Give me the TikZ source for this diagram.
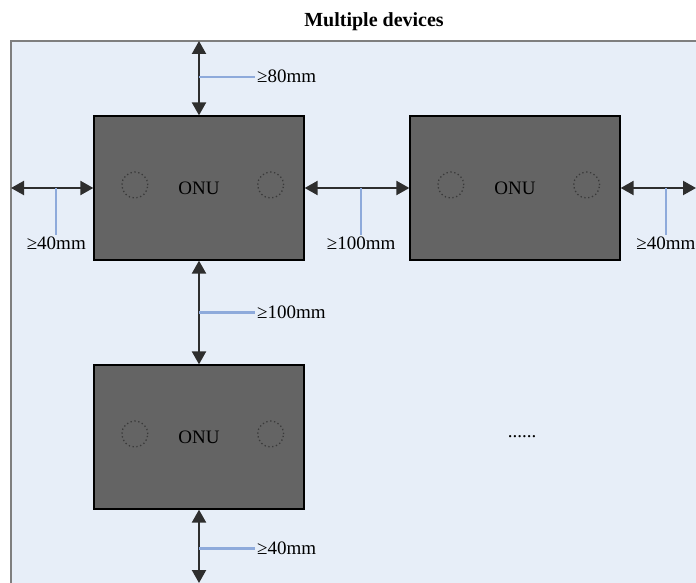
\documentclass[tikz,border=0pt]{standalone}
\usepackage{fontspec}
\setmainfont{Liberation Serif}
\usetikzlibrary{arrows.meta,calc}

\definecolor{bgblue}{HTML}{E7EEF8}
\definecolor{framegray}{HTML}{7F7F7F}
\definecolor{onugray}{HTML}{646464}
\definecolor{portgray}{HTML}{3A3A3A}
\definecolor{arrowgray}{HTML}{2E2E2E}
\definecolor{leaderblue}{HTML}{8EAADB}

\tikzset{
  onu/.style={draw=black, line width=1.3pt, fill=onugray, minimum width=210pt,
    minimum height=144pt, inner sep=0pt, font=\fontsize{19}{19}\selectfont},
  port/.style={draw=portgray, dash pattern=on 1.3pt off 2.6pt, line width=1.3pt, circle,
    minimum size=26pt, inner sep=0pt},
  gap/.style={{Triangle[width=14pt,length=13pt]}-{Triangle[width=14pt,length=13pt]},
    line width=2.2pt, draw=arrowgray},
  leader/.style={draw=leaderblue, line width=2.2pt},
  lbl/.style={font=\fontsize{19}{19}\selectfont, inner sep=1pt}
}

\begin{document}
\begin{tikzpicture}[x=1pt,y=-1pt]
  \useasboundingbox (0,0) rectangle (696,583);
  % enclosure
  \fill[bgblue] (11,41) rectangle (720,600);
  \draw[framegray, line width=2pt] (11,600) -- (11,41) -- (720,41);
  \node[font=\fontsize{20}{20}\selectfont\bfseries] (title) at (374,22) {Multiple devices};

  % devices
  \node[onu] (onuA) at (199,188) {ONU};
  \node[onu] (onuB) at (515,188) {ONU};
  \node[onu] (onuC) at (199,437) {ONU};
  \foreach \dev in {onuA,onuB,onuC} {
    \node[port] (\dev l) at ([shift={(41.5,-3)}]\dev.west) {};
    \node[port] (\dev r) at ([shift={(-34,-3)}]\dev.east) {};
  }
  \node[lbl] (more) at (522,437) {......};

  % walls
  \coordinate (wallT) at (199,41);
  \coordinate (wallL) at (11,188);
  \coordinate (wallR) at (696,188);
  \coordinate (wallB) at (199,583);

  % clearances
  \draw[gap] (wallT) -- (onuA.north);
  \draw[gap] (wallL) -- (onuA.west);
  \draw[gap] (onuA.east) -- (onuB.west);
  \draw[gap] (onuB.east) -- (wallR);
  \draw[gap] (onuA.south) -- (onuC.north);
  \draw[gap] (onuC.south) -- (wallB);

  % labels
  \draw[leader] ($(wallT)!0.48!(onuA.north)$) -- ++(56,0) node[lbl, anchor=west] (topgap) {≥80mm};
  \draw[leader] ($(wallL)!0.55!(onuA.west)$) -- ++(0,47) node[lbl, anchor=north] (leftgap) {≥40mm};
  \draw[leader] ($(onuA.east)!0.54!(onuB.west)$) -- ++(0,47) node[lbl, anchor=north] (midgap) {≥100mm};
  \draw[leader] ($(onuB.east)!0.6!(wallR)$) -- ++(0,47) node[lbl, anchor=north] (rightgap) {≥40mm};
  \draw[leader] ($(onuA.south)!0.5!(onuC.north)$) -- ++(56,0) node[lbl, anchor=west] (rowgap) {≥100mm};
  \draw[leader] ($(onuC.south)!0.53!(wallB)$) -- ++(56,0) node[lbl, anchor=west] (botgap) {≥40mm};
\end{tikzpicture}
\end{document}
